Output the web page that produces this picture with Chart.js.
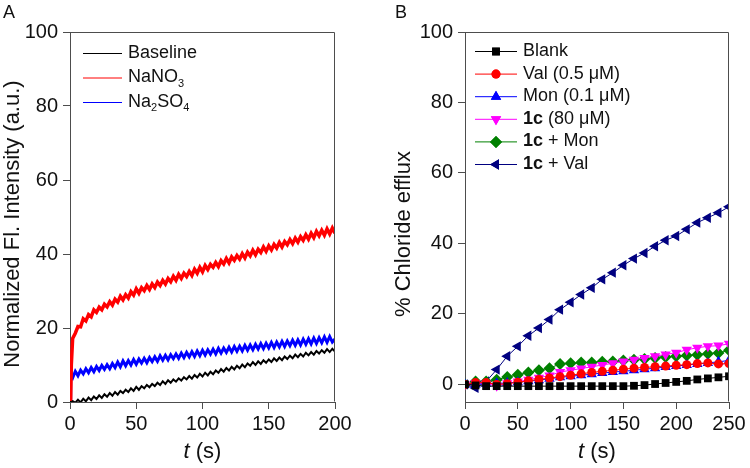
<!DOCTYPE html>
<html lang="en">
<head>
  <meta charset="UTF-8">
  <title>Fluorescence and chloride efflux</title>
  <script src="https://cdn.jsdelivr.net/npm/chart.js"></script>
</head>
<style>
  body { margin: 0; background: #fff; }
  .panel { position: absolute; top: 0; width: 375px; height: 468px; }
  #panelA { left: 0; }
  #panelB { left: 375px; }
</style>
<body>

<div class="panel" id="panelA"><canvas id="chartA" width="375" height="468"></canvas></div>
<div class="panel" id="panelB"><canvas id="chartB" width="375" height="468"></canvas></div>

<script>
  // ---- Panel A: fluorescence traces ----
  const timeA = [0, 0.5, 1,
    2, 4, 6, 8, 10, 12, 14, 16, 18, 20, 22, 24, 26, 28, 30, 32, 34, 36, 38, 40,
    42, 44, 46, 48, 50, 52, 54, 56, 58, 60, 62, 64, 66, 68, 70, 72, 74, 76, 78, 80,
    82, 84, 86, 88, 90, 92, 94, 96, 98, 100, 102, 104, 106, 108, 110, 112, 114, 116, 118, 120,
    122, 124, 126, 128, 130, 132, 134, 136, 138, 140, 142, 144, 146, 148, 150, 152, 154, 156, 158, 160,
    162, 164, 166, 168, 170, 172, 174, 176, 178, 180, 182, 184, 186, 188, 190, 192, 194, 196, 198, 200];

  const baseline = [0, 0, 0,
    0.2, -0.2, 0.6, -0.1, 0.9, 0.2, 1.2, 0.5, 1.5, 0.8,
    1.8, 1.1, 2.1, 1.4, 2.4, 1.7, 2.7, 2.0, 3.0, 2.4,
    3.3, 2.7, 3.7, 3.0, 4.1, 3.3, 4.3, 3.7, 4.6, 4.0,
    4.9, 4.3, 5.2, 4.6, 5.6, 4.9, 5.9, 5.2, 6.1, 5.5,
    6.4, 5.8, 6.7, 6.1, 7.0, 6.3, 7.3, 6.6, 7.6, 6.9,
    7.9, 7.2, 8.2, 7.5, 8.5, 7.9, 8.9, 8.2, 9.2, 8.5,
    9.5, 8.8, 9.8, 9.1, 10.1, 9.4, 10.4, 9.8, 10.8, 10.0,
    11.0, 10.3, 11.3, 10.6, 11.5, 10.8, 11.8, 11.1, 12.0, 11.3,
    12.3, 11.6, 12.5, 11.8, 12.8, 12.1, 13.0, 12.3, 13.3, 12.6,
    13.5, 12.8, 13.8, 13.1, 14.0, 13.3, 14.3, 13.5, 14.4, 13.6];

  const nano3 = [0, 0.5, 10,
    17.2, 18.6, 20.4, 20.3, 22.5, 21.9, 23.6, 23.0, 24.9, 24.2,
    25.6, 24.9, 26.4, 25.7, 27.1, 26.2, 27.8, 27.0, 28.6, 27.6,
    29.0, 28.1, 29.8, 28.9, 30.6, 29.4, 30.9, 30.1, 31.5, 30.4,
    31.9, 30.9, 32.4, 31.5, 32.9, 31.9, 33.4, 32.5, 34.0, 32.9,
    34.5, 33.4, 34.8, 33.9, 35.3, 34.2, 35.9, 34.8, 36.4, 35.2,
    36.9, 35.8, 37.2, 36.4, 37.7, 36.6, 38.2, 37.3, 38.8, 37.6,
    39.2, 38.3, 39.6, 38.6, 40.1, 38.9, 40.5, 39.5, 41.0, 39.8,
    41.3, 40.4, 41.9, 40.7, 42.2, 41.1, 42.6, 41.6, 43.1, 41.9,
    43.4, 42.5, 43.9, 42.8, 44.3, 43.2, 44.7, 43.7, 45.2, 44.0,
    45.6, 44.4, 46.1, 44.9, 46.4, 45.1, 46.8, 45.4, 47.0, 45.6];

  const na2so4 = [0, 12.5, 7,
    6.5, 8.3, 7.1, 8.6, 7.6, 9.0, 7.9, 9.3, 8.2, 9.6,
    8.5, 9.9, 8.8, 10.1, 9.0, 10.4, 9.3, 10.8, 9.5, 11.1,
    9.8, 11.2, 10.0, 11.5, 10.2, 11.6, 10.5, 11.8, 10.6, 12.0,
    10.9, 12.2, 11.0, 12.5, 11.3, 12.6, 11.4, 12.8, 11.7, 13.0,
    11.8, 13.2, 12.0, 13.4, 12.2, 13.6, 12.3, 13.8, 12.5, 14.0,
    12.7, 14.1, 12.9, 14.3, 13.0, 14.5, 13.2, 14.6, 13.4, 14.8,
    13.5, 15.0, 13.7, 15.1, 13.8, 15.3, 14.0, 15.4, 14.1, 15.6,
    14.3, 15.8, 14.4, 15.9, 14.6, 16.1, 14.7, 16.2, 14.9, 16.4,
    15.0, 16.5, 15.2, 16.7, 15.3, 16.8, 15.4, 17.0, 15.6, 17.1,
    15.7, 17.3, 15.8, 17.4, 16.0, 17.6, 16.1, 17.7, 16.2, 17.0];

  const ticksA_x = [0, 50, 100, 150, 200];
  const ticksA_y = [0, 20, 40, 60, 80, 100];

  // ---- Panel B: chloride efflux ----
  const timeB = [0, 10, 20, 30, 40, 50, 60, 70, 80, 90, 100, 110, 120, 130, 140, 150, 160, 170, 180, 190, 200, 210, 220, 230, 240, 250];
  const blank  = [0, -0.3, -0.5, -0.5, -0.5, -0.5, -0.5, -0.5, -0.5, -0.5, -0.5, -0.5, -0.5, -0.5, -0.5, -0.5, -0.4, -0.2, 0.1, 0.4, 0.7, 1.0, 1.4, 1.7, 2.0, 2.3];
  const val    = [0, 0.5, 0.5, 0, 0.2, 0.6, 1.0, 1.4, 1.8, 2.2, 2.6, 3.0, 3.4, 3.7, 4.0, 4.3, 4.6, 4.8, 5.0, 5.2, 5.4, 5.6, 5.9, 6.1, 5.8, 5.9];
  const mon    = [0, 0, 0.2, 0.3, 0.4, 0.6, 0.9, 1.2, 1.6, 2.0, 2.3, 2.6, 2.9, 3.2, 3.5, 3.7, 4.0, 4.3, 4.6, 4.9, 5.2, 5.5, 5.8, 6.1, 6.4, 6.8];
  const c1     = [0, 0.3, 0.2, -0.4, 0.3, 0.8, 1.3, 1.9, 2.5, 3.5, 4.0, 4.5, 5.0, 5.5, 6.0, 6.5, 7.0, 7.5, 8.0, 8.5, 9.0, 9.8, 10.4, 10.8, 11.0, 11.5];
  const c1Mon  = [0, 0.8, 0.8, 1.3, 2.1, 2.7, 3.4, 4.0, 4.6, 5.8, 6.0, 6.2, 6.2, 6.4, 6.5, 6.8, 7.0, 7.2, 7.5, 7.8, 8.0, 8.2, 8.4, 8.7, 8.9, 9.7];
  const c1Val  = [0, -1, 0.8, 4.2, 8, 10.8, 13.8, 16, 18.4, 21.2, 23.3, 25.5, 27.4, 29.8, 31.7, 33.8, 35.7, 37.3, 39.2, 40.9, 42.1, 44, 45.9, 47.3, 48.7, 50.4];

  const ticksB_x = [0, 50, 100, 150, 200, 250];
  const ticksB_y = [0, 20, 40, 60, 80, 100];

  // legend labels (runs so subscripts and bold parts stay real text)
  const legendA = [
    [{ t: 'Baseline' }],
    [{ t: 'NaNO' }, { t: '3', sub: true }],
    [{ t: 'Na' }, { t: '2', sub: true }, { t: 'SO' }, { t: '4', sub: true }]
  ];
  const legendB = [
    [{ t: 'Blank' }],
    [{ t: 'Val (0.5 \u03bcM)' }],
    [{ t: 'Mon (0.1 \u03bcM)' }],
    [{ t: '1c', b: true }, { t: ' (80 \u03bcM)' }],
    [{ t: '1c', b: true }, { t: ' + Mon' }],
    [{ t: '1c', b: true }, { t: ' + Val' }]
  ];

  const FONT = "'Liberation Sans', Arial, sans-serif";
  const AXIS = '#4d4d4d';

  function pairs(xs, ys) {
    const n = Math.min(xs.length, ys.length);
    const out = [];
    for (let i = 0; i < n; i++) out.push({ x: xs[i], y: ys[i] });
    return out;
  }

  function drawRuns(ctx, x, y, runs, size) {
    ctx.textBaseline = 'middle';
    ctx.textAlign = 'left';
    runs.forEach(r => {
      const s = r.sub ? Math.round(size * 0.62) : size;
      ctx.font = (r.b ? 'bold ' : '') + s + 'px ' + FONT;
      ctx.fillText(r.t, x, r.sub ? y + 6 : y);
      x += ctx.measureText(r.t).width;
    });
  }

  function xTitle(ctx, cx, y) {
    ctx.font = 'italic 22px ' + FONT;
    const w1 = ctx.measureText('t').width;
    ctx.font = '22px ' + FONT;
    const w2 = ctx.measureText(' (s)').width;
    let x = cx - (w1 + w2) / 2;
    ctx.textBaseline = 'alphabetic';
    ctx.textAlign = 'left';
    ctx.font = 'italic 22px ' + FONT;
    ctx.fillText('t', x, y);
    ctx.font = '22px ' + FONT;
    ctx.fillText(' (s)', x + w1, y);
  }

  function yTitle(ctx, text, x, cy) {
    ctx.save();
    ctx.translate(x, cy);
    ctx.rotate(-Math.PI / 2);
    ctx.font = '22px ' + FONT;
    ctx.textAlign = 'center';
    ctx.textBaseline = 'middle';
    ctx.fillText(text, 0, 0);
    ctx.restore();
  }

  // frame + titles + legend drawn after the chart
  function decorPlugin(cfg) {
    return {
      id: 'decor',
      afterDraw(chart) {
        const ctx = chart.ctx;
        const a = chart.chartArea;
        ctx.save();
        ctx.strokeStyle = AXIS;
        ctx.lineWidth = 1;
        ctx.beginPath();
        const l = Math.round(a.left) + 0.5, t = Math.round(a.top) + 0.5;
        const r = Math.round(a.right) - 0.5, b = Math.round(a.bottom) - 0.5;
        ctx.moveTo(l, t); ctx.lineTo(r, t); ctx.lineTo(r, b);
        ctx.stroke();

        ctx.fillStyle = '#111';
        ctx.font = '18px ' + FONT;
        ctx.textBaseline = 'alphabetic';
        ctx.textAlign = 'left';
        ctx.fillText(cfg.letter, cfg.letterX, 18);

        yTitle(ctx, cfg.yTitle, cfg.yTitleX, cfg.yTitleY);
        xTitle(ctx, (a.left + a.right) / 2, 458);

        cfg.legend.forEach((runs, i) => {
          const y = cfg.legY + i * cfg.legStep;
          const ds = chart.data.datasets[i];
          ctx.strokeStyle = ds.borderColor;
          ctx.lineWidth = 1;
          ctx.beginPath();
          ctx.moveTo(cfg.legX0, y + 0.5);
          ctx.lineTo(cfg.legX1, y + 0.5);
          ctx.stroke();
          if (ds.pointRadius) {
            ctx.fillStyle = ds.pointBackgroundColor;
            Chart.helpers.drawPoint(ctx, {
              pointStyle: ds.pointStyle, radius: ds.pointRadius,
              rotation: ds.pointRotation || 0, borderWidth: 0
            }, (cfg.legX0 + cfg.legX1) / 2, y + 0.5);
            ctx.fill();
          }
          ctx.fillStyle = '#111';
          drawRuns(ctx, cfg.legX1 + 6, y, runs, 18);
        });
        ctx.restore();
      }
    };
  }

  function scales(xMin, xMax, xTicks, yMin, yMax, yTicks, yWidth) {
    const grid = { drawOnChartArea: false, drawTicks: true, tickLength: 7, color: AXIS, tickColor: AXIS };
    const border = { display: true, color: AXIS, width: 1 };
    const font = { family: FONT, size: 20 };
    return {
      x: {
        type: 'linear', min: xMin, max: xMax,
        grid, border,
        ticks: { font, color: '#111', padding: 3, maxRotation: 0 },
        afterBuildTicks(s) { s.ticks = xTicks.map(v => ({ value: v })); },
        afterFit(s) { s.height = 66; }
      },
      y: {
        type: 'linear', min: yMin, max: yMax,
        grid, border,
        ticks: { font, color: '#111', padding: 5 },
        afterBuildTicks(s) { s.ticks = yTicks.map(v => ({ value: v })); },
        afterFit(s) { s.width = yWidth; }
      }
    };
  }

  const common = {
    responsive: false,
    animation: false,
    plugins: { legend: { display: false }, tooltip: { enabled: false } }
  };

  // Panel A: thick lines stand in for the noisy band of the raw traces
  new Chart(document.getElementById('chartA').getContext('2d'), {
    type: 'line',
    data: {
      datasets: [
        { label: 'Baseline', data: pairs(timeA, baseline), borderColor: '#000000', borderWidth: 2, pointRadius: 0, tension: 0 },
        { label: 'NaNO3', data: pairs(timeA, nano3), borderColor: '#ff0000', borderWidth: 3.5, pointRadius: 0, tension: 0 },
        { label: 'Na2SO4', data: pairs(timeA, na2so4), borderColor: '#0000ff', borderWidth: 3, pointRadius: 0, tension: 0 }
      ]
    },
    options: Object.assign({}, common, {
      layout: { padding: { left: 0, right: 40, top: 32, bottom: 0 } },
      scales: scales(0, 200, ticksA_x, 0, 100, ticksA_y, 70)
    }),
    plugins: [decorPlugin({
      letter: 'A', letterX: 3,
      yTitle: 'Normalized Fl. Intensity (a.u.)', yTitleX: 13, yTitleY: 224,
      legend: legendA, legX0: 83, legX1: 122, legY: 53, legStep: 24.5,
      legWidth: 1
    })]
  });

  // Panel B
  const seriesB = [
    { label: 'Blank', y: blank, color: '#000000', style: 'rect', radius: 5.5, rot: 0 },
    { label: 'Val (0.5 uM)', y: val, color: '#ff0000', style: 'circle', radius: 4.5, rot: 0 },
    { label: 'Mon (0.1 uM)', y: mon, color: '#0000ff', style: 'triangle', radius: 6, rot: 0 },
    { label: '1c (80 uM)', y: c1, color: '#ff00ff', style: 'triangle', radius: 6, rot: 180 },
    { label: '1c + Mon', y: c1Mon, color: '#008000', style: 'rectRot', radius: 6, rot: 0 },
    { label: '1c + Val', y: c1Val, color: '#000080', style: 'triangle', radius: 6, rot: -90 }
  ];

  new Chart(document.getElementById('chartB').getContext('2d'), {
    type: 'line',
    data: {
      datasets: seriesB.map(s => ({
        label: s.label,
        data: pairs(timeB, s.y),
        borderColor: s.color,
        borderWidth: 1,
        pointStyle: s.style,
        pointRadius: s.radius,
        pointRotation: s.rot,
        pointBackgroundColor: s.color,
        pointBorderColor: s.color,
        pointBorderWidth: 0,
        tension: 0
      }))
    },
    options: Object.assign({}, common, {
      layout: { padding: { left: 0, right: 21, top: 32, bottom: 0 } },
      scales: scales(0, 250, ticksB_x, -5, 100, ticksB_y, 90)
    }),
    plugins: [decorPlugin({
      letter: 'B', letterX: 20,
      yTitle: '% Chloride efflux', yTitleX: 29, yTitleY: 234,
      legend: legendB, legX0: 100, legX1: 142, legY: 51, legStep: 22.6
    })]
  });
</script>
</body>
</html>
